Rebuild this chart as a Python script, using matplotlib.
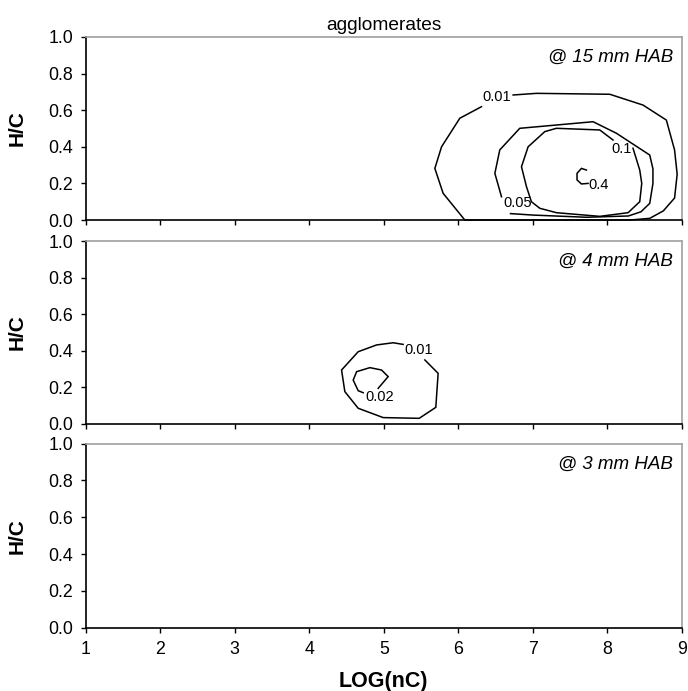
import matplotlib
matplotlib.use("Agg")
import matplotlib.pyplot as plt

plt.rcParams["font.family"] = ["Liberation Sans", "DejaVu Sans"]

# Axis ticks
x_ticks = [1, 2, 3, 4, 5, 6, 7, 8, 9]
y_ticks = [0.0, 0.2, 0.4, 0.6, 0.8, 1.0]
y_tick_labels = ["0.0", "0.2", "0.4", "0.6", "0.8", "1.0"]

panel_titles = ["@ 15 mm HAB", "@ 4 mm HAB", "@ 3 mm HAB"]

# Contour traces, 15 mm HAB
hab15_c001_x = [6.735, 7.048, 8.031, 8.477, 8.79, 8.90, 8.935, 8.90, 8.75, 8.567, 8.30, 6.087, 5.796, 5.685, 5.775, 6.02, 6.31]
hab15_c001_y = [0.683, 0.692, 0.687, 0.628, 0.546, 0.383, 0.25, 0.12, 0.05, 0.009, 0.0, 0.0, 0.146, 0.282, 0.40, 0.556, 0.619]
hab15_c005_x = [6.70, 7.00, 7.72, 8.28, 8.45, 8.567, 8.61, 8.61, 8.567, 8.12, 7.807, 6.824, 6.556, 6.49, 6.579]
hab15_c005_y = [0.035, 0.027, 0.015, 0.022, 0.045, 0.091, 0.20, 0.28, 0.355, 0.474, 0.537, 0.501, 0.383, 0.255, 0.127]
hab15_c01_x = [8.343, 8.433, 8.46, 8.433, 8.277, 7.897, 7.316, 7.093, 6.98, 6.914, 6.847, 6.936, 7.16, 7.316, 7.897, 8.075]
hab15_c01_y = [0.392, 0.273, 0.20, 0.10, 0.040, 0.020, 0.040, 0.064, 0.10, 0.182, 0.291, 0.40, 0.483, 0.501, 0.492, 0.437]
hab15_c04_x = [7.718, 7.651, 7.592, 7.592, 7.651, 7.74]
hab15_c04_y = [0.273, 0.282, 0.255, 0.219, 0.197, 0.20]

# Contour traces, 4 mm HAB
hab4_c001_x = [5.551, 5.729, 5.698, 5.475, 4.992, 4.657, 4.478, 4.434, 4.657, 4.903, 5.126, 5.26]
hab4_c001_y = [0.35, 0.277, 0.091, 0.031, 0.035, 0.086, 0.177, 0.295, 0.395, 0.432, 0.444, 0.435]
hab4_c002_x = [4.925, 5.059, 4.97, 4.814, 4.636, 4.59, 4.657, 4.724]
hab4_c002_y = [0.195, 0.259, 0.295, 0.308, 0.286, 0.24, 0.182, 0.171]

# Level labels: (text, x, y)
hab15_labels = [("0.01", 6.51, 0.674), ("0.05", 6.80, 0.095), ("0.1", 8.19, 0.386), ("0.4", 7.88, 0.19)]
hab4_labels = [("0.01", 5.475, 0.404), ("0.02", 4.94, 0.146)]

fig = plt.figure(figsize=(6.88, 6.91), dpi=100)

left, width = 0.1243, 0.867
panel_boxes = [
    (left, 0.6816, width, 0.2649),
    (left, 0.3864, width, 0.2648),
    (left, 0.0916, width, 0.2663),
]

axes = []
for i, box in enumerate(panel_boxes):
    ax = fig.add_axes(box)
    ax.set_xlim(1, 9)
    ax.set_ylim(0, 1)
    ax.set_xticks(x_ticks)
    ax.set_yticks(y_ticks)
    ax.set_yticklabels(y_tick_labels)
    ax.tick_params(direction="out", length=3.5, width=1, labelsize=12.8, colors="black")
    ax.tick_params(axis="y", pad=5.5)
    ax.tick_params(axis="x", pad=6)
    if i < 2:
        ax.tick_params(axis="x", labelbottom=False)
    for side in ("top", "right"):
        ax.spines[side].set_color("#a0a0a0")
        ax.spines[side].set_linewidth(1.2)
    for side in ("left", "bottom"):
        ax.spines[side].set_color("black")
        ax.spines[side].set_linewidth(1.2)
    ax.set_ylabel("H/C", fontsize=15, fontweight="bold")
    ax.yaxis.set_label_coords(-0.098, 0.5)
    ax.text(0.985, 0.89, panel_titles[i], transform=ax.transAxes, ha="right", va="center",
            fontsize=13.5, style="italic")
    axes.append(ax)

line_kw = dict(color="black", lw=1.1, solid_joinstyle="miter")
ax = axes[0]
for xs, ys in [(hab15_c001_x, hab15_c001_y), (hab15_c005_x, hab15_c005_y),
               (hab15_c01_x, hab15_c01_y), (hab15_c04_x, hab15_c04_y)]:
    ax.plot(xs, ys, clip_on=False, **line_kw)
for txt, tx, ty in hab15_labels:
    ax.text(tx, ty, txt, fontsize=10.5, ha="center", va="center")

ax = axes[1]
for xs, ys in [(hab4_c001_x, hab4_c001_y), (hab4_c002_x, hab4_c002_y)]:
    ax.plot(xs, ys, **line_kw)
for txt, tx, ty in hab4_labels:
    ax.text(tx, ty, txt, fontsize=10.5, ha="center", va="center")

axes[0].set_title("agglomerates", fontsize=13.8, pad=5)
axes[2].set_xlabel("LOG(nC)", fontsize=15.5, fontweight="bold")
axes[2].xaxis.set_label_coords(0.5, -0.235)

fig.savefig("out.png", dpi=100)
